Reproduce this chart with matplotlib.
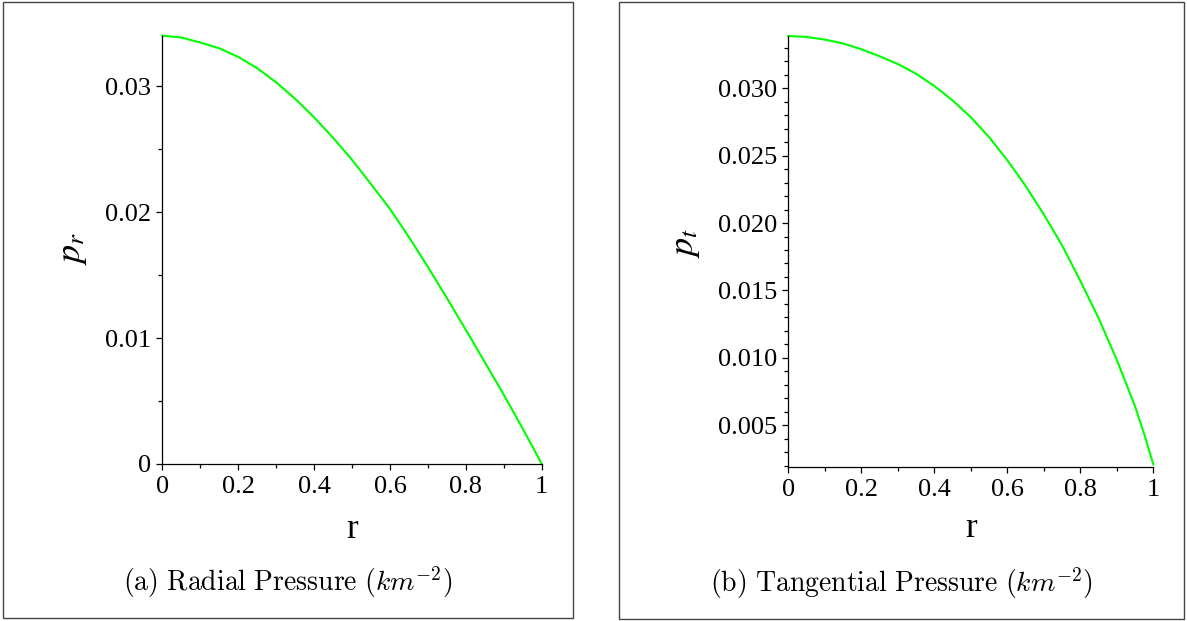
#Importing numpy and pyplot
import numpy as np
import matplotlib.pyplot as plt
from matplotlib.patches import Rectangle

# radius (normalised) and the two pressures
r = [0.00, 0.05, 0.10, 0.15, 0.20, 0.25, 0.30, 0.35, 0.40, 0.45, 0.50,
     0.55, 0.60, 0.65, 0.70, 0.75, 0.80, 0.85, 0.90, 0.95, 0.975, 1.00]
p_r = [0.03400, 0.03386, 0.03346, 0.03300, 0.03232, 0.03142, 0.03030, 0.02900,
       0.02752, 0.02590, 0.02415, 0.02222, 0.02025, 0.01802, 0.01564, 0.01318,
       0.01065, 0.00808, 0.00550, 0.00280, 0.00142, 0.00000]
p_t = [0.03388, 0.03381, 0.03361, 0.03333, 0.03289, 0.03238, 0.03180, 0.03108,
       0.03017, 0.02910, 0.02785, 0.02638, 0.02466, 0.02276, 0.02064, 0.01835,
       0.01572, 0.01295, 0.00985, 0.00640, 0.00435, 0.00210]

x_ticks = [0, 0.2, 0.4, 0.6, 0.8, 1]
x_labels = ['0', '0.2', '0.4', '0.6', '0.8', '1']
pr_ticks = [0, 0.01, 0.02, 0.03]
pr_labels = ['0', '0.01', '0.02', '0.03']
pt_ticks = [0.005, 0.010, 0.015, 0.020, 0.025, 0.030]
pt_labels = ['0.005', '0.010', '0.015', '0.020', '0.025', '0.030']
captions = [r'$\mathrm{(a)\ Radial\ Pressure\ (}km^{-2}\mathrm{)}$',
            r'$\mathrm{(b)\ Tangential\ Pressure\ (}km^{-2}\mathrm{)}$']

plt.rcParams['font.family'] = 'Liberation Serif'
plt.rcParams['mathtext.fontset'] = 'stix'

W, H = 1187, 621
fig = plt.figure(figsize=(W/100, H/100), dpi=100)

def fx(px): return px/W
def fy(py): return 1 - py/H

# pixel boxes of the two axes (left, top, right, bottom)
ax1 = fig.add_axes([fx(162.3), fy(464), fx(541.7)-fx(162.3), fy(35.7)-fy(464)])
ax2 = fig.add_axes([fx(788.3), fy(467.3), fx(1153.3)-fx(788.3), fy(35.7)-fy(467.3)])

ax1.plot(r, p_r, color='#00ff00', lw=1.5, clip_on=False)
ax2.plot(r, p_t, color='#00ff00', lw=1.5, clip_on=False)

ax1.set_ylim(0, 0.034)
ax2.set_ylim(0.00188, 0.0339)
ax1.set_yticks(pr_ticks, pr_labels)
ax1.set_yticks(np.arange(0, 0.034, 0.005), minor=True)
ax2.set_yticks(pt_ticks, pt_labels)
ax2.set_yticks(np.arange(0.002, 0.034, 0.001), minor=True)

for ax in (ax1, ax2):
    ax.set_xlim(0, 1)
    ax.set_xticks(x_ticks, x_labels)
    ax.set_xticks(np.arange(0, 1.01, 0.1), minor=True)
    ax.spines['top'].set_visible(False)
    ax.spines['right'].set_visible(False)
    ax.spines['left'].set_linewidth(0.9)
    ax.spines['bottom'].set_linewidth(0.9)
    ax.tick_params(which='major', length=4.3, width=0.9, labelsize=19, pad=4)
    ax.tick_params(which='minor', length=2.9, width=0.9)
    ax.set_xlabel('r', fontsize=25, va='center')

ax1.xaxis.set_label_coords(0.5, -0.152)
ax2.xaxis.set_label_coords(0.5, -0.141)

ax1.set_ylabel(r'$p_r$', fontsize=26, rotation=90, ha='center', va='center', rotation_mode='default')
ax2.set_ylabel(r'$p_t$', fontsize=26, rotation=90, ha='center', va='center', rotation_mode='default')
ax1.yaxis.set_label_coords(-0.238, 0.504)
ax2.yaxis.set_label_coords(-0.283, 0.52)

# captions under each panel
fig.text(fx(288), fy(582), captions[0], fontsize=20, ha='center', va='center', math_fontfamily='cm')
fig.text(fx(902), fy(583), captions[1], fontsize=20, ha='center', va='center', math_fontfamily='cm')

# frames round each subfigure
fig.patches.append(Rectangle((fx(3), fy(618)), fx(573)-fx(3), fy(2)-fy(618), fill=False,
                             edgecolor='#444444', lw=1, transform=fig.transFigure))
fig.patches.append(Rectangle((fx(619), fy(619)), fx(1184)-fx(619), fy(2)-fy(619), fill=False,
                             edgecolor='#444444', lw=1, transform=fig.transFigure))

plt.savefig('out.png', dpi=100)
